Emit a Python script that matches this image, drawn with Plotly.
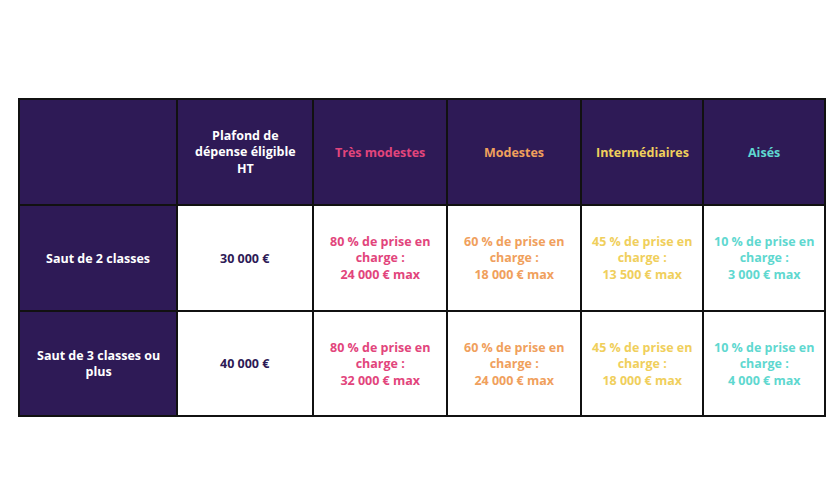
import plotly.graph_objects as go

headers = ["", "Plafond de<br>dépense éligible<br>HT", "Très modestes", "Modestes", "Intermédiaires", "Aisés"]
row_labels = ["Saut de 2 classes", "Saut de 3 classes ou<br>plus"]
plafonds = ["30 000 €", "40 000 €"]
taux = ["80 %", "60 %", "45 %", "10 %"]
montants_2 = ["24 000 €", "18 000 €", "13 500 €", "3 000 €"]
montants_3 = ["32 000 €", "24 000 €", "18 000 €", "4 000 €"]
cat_colors = ["#e2457c", "#f0a05c", "#f0cf5c", "#5fd8d0"]

DARK = "#2e1a56"
col_edges = [19, 177, 313, 447, 581, 703, 825]
row_edges = [99, 205, 311, 416]

fig = go.Figure()
shapes, anns = [], []
font = "Open Sans"

def cell(c, r, fill, text, color):
    x0, x1 = col_edges[c], col_edges[c + 1]
    y0, y1 = row_edges[r], row_edges[r + 1]
    shapes.append(dict(type="rect", x0=x0, x1=x1, y0=y0, y1=y1, fillcolor=fill,
                       line=dict(color="#111111", width=2), layer="below"))
    anns.append(dict(x=(x0 + x1) / 2, y=(y0 + y1) / 2, text="<b>" + text + "</b>", showarrow=False,
                     font=dict(family=font, size=12.5, color=color), align="center"))

for c, h in enumerate(headers):
    color = "white" if c < 2 else cat_colors[c - 2]
    cell(c, 0, DARK, h, color)

for r, (lab, pl, mts) in enumerate(zip(row_labels, plafonds, [montants_2, montants_3])):
    cell(0, r + 1, DARK, lab, "white")
    cell(1, r + 1, "white", pl, DARK)
    for k in range(4):
        txt = f"{taux[k]} de prise en<br>charge :<br>{mts[k]} max"
        cell(k + 2, r + 1, "white", txt, cat_colors[k])

fig.update_layout(width=840, height=480, margin=dict(l=0, r=0, t=0, b=0),
                  paper_bgcolor="white", plot_bgcolor="white",
                  xaxis=dict(range=[8, 848], visible=False, fixedrange=True),
                  yaxis=dict(range=[488, 8], visible=False, fixedrange=True),
                  shapes=shapes, annotations=anns, showlegend=False)
fig.write_html("out.html", config={"displayModeBar": False})
